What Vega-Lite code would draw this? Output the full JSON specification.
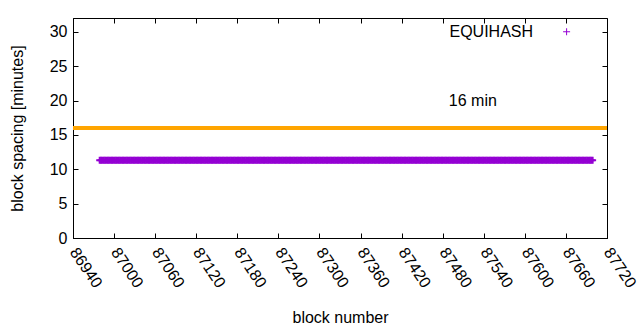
{
"$schema": "https://vega.github.io/schema/vega-lite/v6.json",
"autosize": "none",
"width": 534,
"height": 220,
"padding": {"left": 73, "top": 18, "right": 33, "bottom": 92},
"background": "white",
"config": {
  "font": "Liberation Sans",
  "view": {"stroke": "black", "strokeWidth": 1},
  "axis": {"grid": false, "domainColor": "black", "tickColor": "black", "labelColor": "black", "titleColor": "black", "labelFontSize": 16, "titleFontSize": 16, "titleFontWeight": "normal", "tickSize": -5, "labelFont": "Liberation Sans", "titleFont": "Liberation Sans"}
},
"datasets": {
"equihash": [
{"b":86979,"m":11.3},{"b":86981,"m":11.3},{"b":86983,"m":11.3},{"b":86985,"m":11.3},{"b":86987,"m":11.3},{"b":86989,"m":11.3},{"b":86991,"m":11.3},{"b":86993,"m":11.3},{"b":86995,"m":11.3},{"b":86997,"m":11.3},
{"b":86999,"m":11.3},{"b":87001,"m":11.3},{"b":87003,"m":11.3},{"b":87005,"m":11.3},{"b":87007,"m":11.3},{"b":87009,"m":11.3},{"b":87011,"m":11.3},{"b":87013,"m":11.3},{"b":87015,"m":11.3},{"b":87017,"m":11.3},
{"b":87019,"m":11.3},{"b":87021,"m":11.3},{"b":87023,"m":11.3},{"b":87025,"m":11.3},{"b":87027,"m":11.3},{"b":87029,"m":11.3},{"b":87031,"m":11.3},{"b":87033,"m":11.3},{"b":87035,"m":11.3},{"b":87037,"m":11.3},
{"b":87039,"m":11.3},{"b":87041,"m":11.3},{"b":87043,"m":11.3},{"b":87045,"m":11.3},{"b":87047,"m":11.3},{"b":87049,"m":11.3},{"b":87051,"m":11.3},{"b":87053,"m":11.3},{"b":87055,"m":11.3},{"b":87057,"m":11.3},
{"b":87059,"m":11.3},{"b":87061,"m":11.3},{"b":87063,"m":11.3},{"b":87065,"m":11.3},{"b":87067,"m":11.3},{"b":87069,"m":11.3},{"b":87071,"m":11.3},{"b":87073,"m":11.3},{"b":87075,"m":11.3},{"b":87077,"m":11.3},
{"b":87079,"m":11.3},{"b":87081,"m":11.3},{"b":87083,"m":11.3},{"b":87085,"m":11.3},{"b":87087,"m":11.3},{"b":87089,"m":11.3},{"b":87091,"m":11.3},{"b":87093,"m":11.3},{"b":87095,"m":11.3},{"b":87097,"m":11.3},
{"b":87099,"m":11.3},{"b":87101,"m":11.3},{"b":87103,"m":11.3},{"b":87105,"m":11.3},{"b":87107,"m":11.3},{"b":87109,"m":11.3},{"b":87111,"m":11.3},{"b":87113,"m":11.3},{"b":87115,"m":11.3},{"b":87117,"m":11.3},
{"b":87119,"m":11.3},{"b":87121,"m":11.3},{"b":87123,"m":11.3},{"b":87125,"m":11.3},{"b":87127,"m":11.3},{"b":87129,"m":11.3},{"b":87131,"m":11.3},{"b":87133,"m":11.3},{"b":87135,"m":11.3},{"b":87137,"m":11.3},
{"b":87139,"m":11.3},{"b":87141,"m":11.3},{"b":87143,"m":11.3},{"b":87145,"m":11.3},{"b":87147,"m":11.3},{"b":87149,"m":11.3},{"b":87151,"m":11.3},{"b":87153,"m":11.3},{"b":87155,"m":11.3},{"b":87157,"m":11.3},
{"b":87159,"m":11.3},{"b":87161,"m":11.3},{"b":87163,"m":11.3},{"b":87165,"m":11.3},{"b":87167,"m":11.3},{"b":87169,"m":11.3},{"b":87171,"m":11.3},{"b":87173,"m":11.3},{"b":87175,"m":11.3},{"b":87177,"m":11.3},
{"b":87179,"m":11.3},{"b":87181,"m":11.3},{"b":87183,"m":11.3},{"b":87185,"m":11.3},{"b":87187,"m":11.3},{"b":87189,"m":11.3},{"b":87191,"m":11.3},{"b":87193,"m":11.3},{"b":87195,"m":11.3},{"b":87197,"m":11.3},
{"b":87199,"m":11.3},{"b":87201,"m":11.3},{"b":87203,"m":11.3},{"b":87205,"m":11.3},{"b":87207,"m":11.3},{"b":87209,"m":11.3},{"b":87211,"m":11.3},{"b":87213,"m":11.3},{"b":87215,"m":11.3},{"b":87217,"m":11.3},
{"b":87219,"m":11.3},{"b":87221,"m":11.3},{"b":87223,"m":11.3},{"b":87225,"m":11.3},{"b":87227,"m":11.3},{"b":87229,"m":11.3},{"b":87231,"m":11.3},{"b":87233,"m":11.3},{"b":87235,"m":11.3},{"b":87237,"m":11.3},
{"b":87239,"m":11.3},{"b":87241,"m":11.3},{"b":87243,"m":11.3},{"b":87245,"m":11.3},{"b":87247,"m":11.3},{"b":87249,"m":11.3},{"b":87251,"m":11.3},{"b":87253,"m":11.3},{"b":87255,"m":11.3},{"b":87257,"m":11.3},
{"b":87259,"m":11.3},{"b":87261,"m":11.3},{"b":87263,"m":11.3},{"b":87265,"m":11.3},{"b":87267,"m":11.3},{"b":87269,"m":11.3},{"b":87271,"m":11.3},{"b":87273,"m":11.3},{"b":87275,"m":11.3},{"b":87277,"m":11.3},
{"b":87279,"m":11.3},{"b":87281,"m":11.3},{"b":87283,"m":11.3},{"b":87285,"m":11.3},{"b":87287,"m":11.3},{"b":87289,"m":11.3},{"b":87291,"m":11.3},{"b":87293,"m":11.3},{"b":87295,"m":11.3},{"b":87297,"m":11.3},
{"b":87299,"m":11.3},{"b":87301,"m":11.3},{"b":87303,"m":11.3},{"b":87305,"m":11.3},{"b":87307,"m":11.3},{"b":87309,"m":11.3},{"b":87311,"m":11.3},{"b":87313,"m":11.3},{"b":87315,"m":11.3},{"b":87317,"m":11.3},
{"b":87319,"m":11.3},{"b":87321,"m":11.3},{"b":87323,"m":11.3},{"b":87325,"m":11.3},{"b":87327,"m":11.3},{"b":87329,"m":11.3},{"b":87331,"m":11.3},{"b":87333,"m":11.3},{"b":87335,"m":11.3},{"b":87337,"m":11.3},
{"b":87339,"m":11.3},{"b":87341,"m":11.3},{"b":87343,"m":11.3},{"b":87345,"m":11.3},{"b":87347,"m":11.3},{"b":87349,"m":11.3},{"b":87351,"m":11.3},{"b":87353,"m":11.3},{"b":87355,"m":11.3},{"b":87357,"m":11.3},
{"b":87359,"m":11.3},{"b":87361,"m":11.3},{"b":87363,"m":11.3},{"b":87365,"m":11.3},{"b":87367,"m":11.3},{"b":87369,"m":11.3},{"b":87371,"m":11.3},{"b":87373,"m":11.3},{"b":87375,"m":11.3},{"b":87377,"m":11.3},
{"b":87379,"m":11.3},{"b":87381,"m":11.3},{"b":87383,"m":11.3},{"b":87385,"m":11.3},{"b":87387,"m":11.3},{"b":87389,"m":11.3},{"b":87391,"m":11.3},{"b":87393,"m":11.3},{"b":87395,"m":11.3},{"b":87397,"m":11.3},
{"b":87399,"m":11.3},{"b":87401,"m":11.3},{"b":87403,"m":11.3},{"b":87405,"m":11.3},{"b":87407,"m":11.3},{"b":87409,"m":11.3},{"b":87411,"m":11.3},{"b":87413,"m":11.3},{"b":87415,"m":11.3},{"b":87417,"m":11.3},
{"b":87419,"m":11.3},{"b":87421,"m":11.3},{"b":87423,"m":11.3},{"b":87425,"m":11.3},{"b":87427,"m":11.3},{"b":87429,"m":11.3},{"b":87431,"m":11.3},{"b":87433,"m":11.3},{"b":87435,"m":11.3},{"b":87437,"m":11.3},
{"b":87439,"m":11.3},{"b":87441,"m":11.3},{"b":87443,"m":11.3},{"b":87445,"m":11.3},{"b":87447,"m":11.3},{"b":87449,"m":11.3},{"b":87451,"m":11.3},{"b":87453,"m":11.3},{"b":87455,"m":11.3},{"b":87457,"m":11.3},
{"b":87459,"m":11.3},{"b":87461,"m":11.3},{"b":87463,"m":11.3},{"b":87465,"m":11.3},{"b":87467,"m":11.3},{"b":87469,"m":11.3},{"b":87471,"m":11.3},{"b":87473,"m":11.3},{"b":87475,"m":11.3},{"b":87477,"m":11.3},
{"b":87479,"m":11.3},{"b":87481,"m":11.3},{"b":87483,"m":11.3},{"b":87485,"m":11.3},{"b":87487,"m":11.3},{"b":87489,"m":11.3},{"b":87491,"m":11.3},{"b":87493,"m":11.3},{"b":87495,"m":11.3},{"b":87497,"m":11.3},
{"b":87499,"m":11.3},{"b":87501,"m":11.3},{"b":87503,"m":11.3},{"b":87505,"m":11.3},{"b":87507,"m":11.3},{"b":87509,"m":11.3},{"b":87511,"m":11.3},{"b":87513,"m":11.3},{"b":87515,"m":11.3},{"b":87517,"m":11.3},
{"b":87519,"m":11.3},{"b":87521,"m":11.3},{"b":87523,"m":11.3},{"b":87525,"m":11.3},{"b":87527,"m":11.3},{"b":87529,"m":11.3},{"b":87531,"m":11.3},{"b":87533,"m":11.3},{"b":87535,"m":11.3},{"b":87537,"m":11.3},
{"b":87539,"m":11.3},{"b":87541,"m":11.3},{"b":87543,"m":11.3},{"b":87545,"m":11.3},{"b":87547,"m":11.3},{"b":87549,"m":11.3},{"b":87551,"m":11.3},{"b":87553,"m":11.3},{"b":87555,"m":11.3},{"b":87557,"m":11.3},
{"b":87559,"m":11.3},{"b":87561,"m":11.3},{"b":87563,"m":11.3},{"b":87565,"m":11.3},{"b":87567,"m":11.3},{"b":87569,"m":11.3},{"b":87571,"m":11.3},{"b":87573,"m":11.3},{"b":87575,"m":11.3},{"b":87577,"m":11.3},
{"b":87579,"m":11.3},{"b":87581,"m":11.3},{"b":87583,"m":11.3},{"b":87585,"m":11.3},{"b":87587,"m":11.3},{"b":87589,"m":11.3},{"b":87591,"m":11.3},{"b":87593,"m":11.3},{"b":87595,"m":11.3},{"b":87597,"m":11.3},
{"b":87599,"m":11.3},{"b":87601,"m":11.3},{"b":87603,"m":11.3},{"b":87605,"m":11.3},{"b":87607,"m":11.3},{"b":87609,"m":11.3},{"b":87611,"m":11.3},{"b":87613,"m":11.3},{"b":87615,"m":11.3},{"b":87617,"m":11.3},
{"b":87619,"m":11.3},{"b":87621,"m":11.3},{"b":87623,"m":11.3},{"b":87625,"m":11.3},{"b":87627,"m":11.3},{"b":87629,"m":11.3},{"b":87631,"m":11.3},{"b":87633,"m":11.3},{"b":87635,"m":11.3},{"b":87637,"m":11.3},
{"b":87639,"m":11.3},{"b":87641,"m":11.3},{"b":87643,"m":11.3},{"b":87645,"m":11.3},{"b":87647,"m":11.3},{"b":87649,"m":11.3},{"b":87651,"m":11.3},{"b":87653,"m":11.3},{"b":87655,"m":11.3},{"b":87657,"m":11.3},
{"b":87659,"m":11.3},{"b":87661,"m":11.3},{"b":87663,"m":11.3},{"b":87665,"m":11.3},{"b":87667,"m":11.3},{"b":87669,"m":11.3},{"b":87671,"m":11.3},{"b":87673,"m":11.3},{"b":87675,"m":11.3},{"b":87677,"m":11.3},
{"b":87679,"m":11.3},{"b":87681,"m":11.3},{"b":87683,"m":11.3},{"b":87685,"m":11.3},{"b":87687,"m":11.3},{"b":87689,"m":11.3},{"b":87691,"m":11.3},{"b":87693,"m":11.3},{"b":87695,"m":11.3},{"b":87697,"m":11.3},
{"b":87699,"m":11.3}
],
"one": [{}]
},
"resolve": {"axis": {"x": "independent", "y": "independent"}},
"layer": [
  {
    "data": {"name": "equihash"},
    "mark": {"type": "point", "shape": "M-1,0H1M0,-1V1", "filled": false, "size": 49, "strokeWidth": 2, "color": "#9400d3", "opacity": 1},
    "encoding": {
      "x": {"field": "b", "type": "quantitative", "scale": {"domain": [86940, 87720], "nice": false, "zero": false},
            "axis": {"orient": "bottom", "title": "block number", "format": "d", "values": [86940,87000,87060,87120,87180,87240,87300,87360,87420,87480,87540,87600,87660,87720], "labelAngle": 56, "labelAlign": "left", "labelBaseline": "middle", "labelPadding": 16, "titlePadding": 19, "labelFlush": false, "labelOverlap": false}},
      "y": {"field": "m", "type": "quantitative", "scale": {"domain": [0, 32], "nice": false},
            "axis": {"orient": "left", "title": "block spacing [minutes]", "values": [0,5,10,15,20,25,30], "labelPadding": 11, "titlePadding": 24, "labelFlush": false}}
    }
  },
  {
    "data": {"name": "one"},
    "mark": {"type": "rule", "color": "#ffa500", "strokeWidth": 4},
    "encoding": {"y": {"datum": 16, "type": "quantitative", "axis": null}}
  },
  {
    "data": {"name": "one"},
    "mark": {"type": "text", "text": "16 min", "align": "left", "baseline": "middle", "fontSize": 16, "color": "black", "font": "Liberation Sans"},
    "encoding": {"x": {"datum": 87489, "type": "quantitative", "axis": null}, "y": {"datum": 20, "type": "quantitative", "axis": null}}
  },
  {
    "data": {"name": "one"},
    "mark": {"type": "text", "text": "EQUIHASH", "align": "right", "baseline": "middle", "fontSize": 16, "color": "black", "font": "Liberation Sans"},
    "encoding": {"x": {"datum": 87612, "type": "quantitative", "axis": null}, "y": {"datum": 30, "type": "quantitative", "axis": null}}
  },
  {
    "data": {"name": "one"},
    "mark": {"type": "point", "shape": "M-1,0H1M0,-1V1", "filled": false, "size": 49, "strokeWidth": 1, "color": "#9400d3", "opacity": 1},
    "encoding": {
      "x": {"datum": 87661, "type": "quantitative", "axis": {"orient": "top", "title": null, "labels": false, "values": [86940,87000,87060,87120,87180,87240,87300,87360,87420,87480,87540,87600,87660,87720], "domain": false}},
      "y": {"datum": 30, "type": "quantitative", "axis": {"orient": "right", "title": null, "labels": false, "values": [0,5,10,15,20,25,30], "domain": false}}
    }
  }
]
}
